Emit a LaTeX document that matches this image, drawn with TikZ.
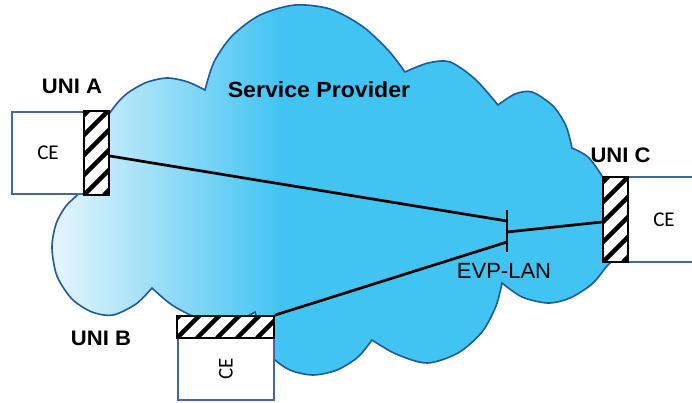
\documentclass[tikz,border=0pt]{standalone}
\usepackage{fontspec}
\setmainfont{Liberation Sans}
\newfontfamily\cefont{Carlito}
\usetikzlibrary{calc}
\definecolor{cloudblue}{RGB}{66,196,242}
\definecolor{cloudlight}{RGB}{236,247,253}
\definecolor{cloudedge}{RGB}{30,90,155}
\definecolor{ceblue}{RGB}{68,103,158}
\newcommand\cloudoutline{%
 plot[smooth] coordinates {(100,140) (108,116) (124,96) (145,83) (167,78) (188,82) (205,90)}
 -- plot[smooth] coordinates {(205,90) (214,62) (232,36) (260,15) (295,5) (330,9) (362,26) (388,50) (405,72)}
 -- plot[smooth] coordinates {(405,72) (428,63) (450,62) (475,79) (498,105)}
 -- plot[smooth] coordinates {(498,105) (515,94) (532,92) (553,106) (566,126) (572,148)}
 -- plot[smooth] coordinates {(572,148) (588,157) (602,176) (612,195) (618,215)}
 -- plot[smooth] coordinates {(618,215) (624,238) (617,256) (607,266) (592,284) (570,298) (548,303) (522,297) (502,283)}
 -- plot[smooth] coordinates {(502,283) (496,306) (482,332) (458,353) (427,363) (396,354) (372,340)}
 -- plot[smooth] coordinates {(372,340) (358,357) (337,370) (313,375) (290,370) (272,357) (262,338) (255,312)}
 -- plot[smooth] coordinates {(255,312) (230,323) (200,319) (172,305) (152,288)}
 -- plot[smooth] coordinates {(152,288) (136,304) (113,315) (92,312) (72,299) (57,276) (52,248) (56,224) (66,206) (80,192) (92,172) (100,140)}
 -- cycle}
\tikzset{
 cebox/.style={draw=ceblue, line width=1.5pt, fill=white, inner sep=0pt, font=\cefont\fontsize{21}{25}\selectfont},
 hatchbox/.style={draw=black, line width=1.8pt, fill=white, inner sep=0pt,
   path picture={\foreach \k in {-6,...,6}{\draw[black, line width=4.5pt] ($(path picture bounding box.south west)+(\k*20pt,0pt)$) -- ++(160pt,160pt);}}},
 unilabel/.style={font=\bfseries\fontsize{21}{25}\selectfont, anchor=base, inner sep=0pt},
 plainlabel/.style={font=\fontsize{22}{26}\selectfont, anchor=base, inner sep=0pt},
 link/.style={line width=2.7pt, black},
}
\begin{document}
\begin{tikzpicture}[x=1pt,y=-1pt]
\useasboundingbox (0,0) rectangle (692,402);
\fill[white] (0,0) rectangle (692,402);
\begin{scope}
 \clip \cloudoutline;
 \fill[cloudblue] (0,0) rectangle (692,402);
 \shade[left color=cloudlight, right color=cloudblue] (45,0) rectangle (280,402);
\end{scope}
\draw[cloudedge, line width=1.6pt] \cloudoutline;

\node[cebox, minimum width=72pt, minimum height=82pt] (ceA) at (48,153) {CE};
\node[cebox, minimum width=96pt, minimum height=62pt] (ceB) at (226,369) {\rotatebox{90}{CE}};
\node[cebox, minimum width=72pt, minimum height=85pt] (ceC) at (664,219.5) {CE};

\node[hatchbox, minimum width=25pt, minimum height=84pt] (hA) at (96.5,153) {};
\node[hatchbox, minimum width=97pt, minimum height=22pt] (hB) at (225.5,327) {};
\node[hatchbox, minimum width=25pt, minimum height=85pt] (hC) at (615.5,219.5) {};

\coordinate (evpTop) at (507,210);
\coordinate (evpBot) at (507,252);
\coordinate (evpA) at (507,221);
\coordinate (evpB) at (507,242);
\coordinate (evpC) at (507,232);
\draw[link] (evpTop) -- (evpBot);
\draw[link] ([yshift=-3pt]hA.east) -- (evpA);
\draw[link] (hB.north east) -- (evpB);
\draw[link] (evpC) -- ([yshift=-2.5pt]hC.west);

\node[unilabel] (lA) at (72,93) {\scalebox{1.05}[1]{UNI A}};
\node[unilabel] (lB) at (101,345) {\scalebox{1.05}[1]{UNI B}};
\node[unilabel] (lC) at (620.5,162) {\scalebox{1.05}[1]{UNI C}};
\node[unilabel, font=\bfseries\fontsize{22}{26}\selectfont] (sp) at (319,97) {\scalebox{1.05}[1]{Service Provider}};
\node[plainlabel] (evp) at (504,278) {EVP-LAN};
\end{tikzpicture}
\end{document}
